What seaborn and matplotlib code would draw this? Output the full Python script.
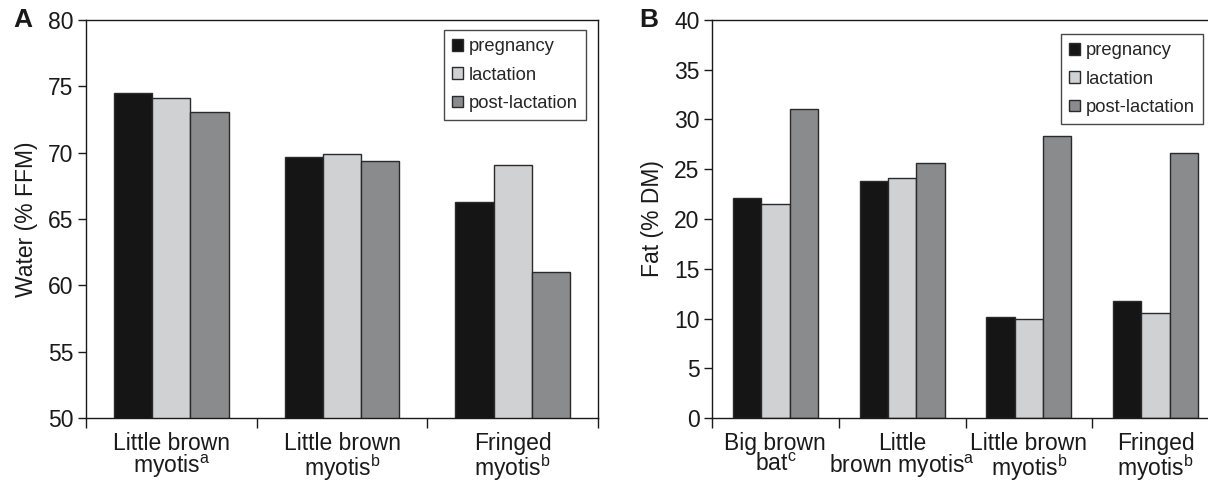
import matplotlib
matplotlib.use("Agg")
import matplotlib.pyplot as plt
import seaborn as sns
import pandas as pd

# Reproductive stages (legend order)
stages = ["pregnancy", "lactation", "post-lactation"]
stage_colors = ["#151515", "#d0d1d3", "#8a8b8d"]

# Panel A: body water content
water_species = [
    "Little brown\nmyotis$^{\\mathrm{a}}$",
    "Little brown\nmyotis$^{\\mathrm{b}}$",
    "Fringed\nmyotis$^{\\mathrm{b}}$",
]
water_pregnancy = [74.5, 69.7, 66.3]
water_lactation = [74.15, 69.9, 69.1]
water_post = [73.05, 69.35, 61.0]

# Panel B: body fat content
fat_species = [
    "Big brown\nbat$^{\\mathrm{c}}$",
    "Little\nbrown myotis$^{\\mathrm{a}}$",
    "Little brown\nmyotis$^{\\mathrm{b}}$",
    "Fringed\nmyotis$^{\\mathrm{b}}$",
]
fat_pregnancy = [22.15, 23.85, 10.2, 11.8]
fat_lactation = [21.5, 24.1, 10.0, 10.6]
fat_post = [31.1, 25.6, 28.35, 26.6]


def long_table(species, preg, lact, post):
    rows = []
    for vals, stage in zip([preg, lact, post], stages):
        for sp, v in zip(species, vals):
            rows.append({"species": sp, "stage": stage, "value": v})
    return pd.DataFrame(rows)


sns.set_theme(style="white")
plt.rcParams["font.family"] = ["Liberation Sans", "DejaVu Sans"]
plt.rcParams["mathtext.fontset"] = "custom"
plt.rcParams["mathtext.rm"] = "Liberation Sans"
plt.rcParams["mathtext.it"] = "Liberation Sans:italic"
plt.rcParams["mathtext.bf"] = "Liberation Sans:bold"

fig = plt.figure(figsize=(12.08, 4.83), dpi=100)
W, H = 1208.0, 483.0
axA = fig.add_axes([86 / W, (H - 418) / H, 512 / W, 398 / H])
axB = fig.add_axes([712 / W, (H - 418) / H, 507 / W, 398 / H])

panels = [
    (axA, long_table(water_species, water_pregnancy, water_lactation, water_post),
     water_species, (50, 80), range(50, 81, 5), "Water (% FFM)", "A",
     (0.977, 0.975), -0.141),
    (axB, long_table(fat_species, fat_pregnancy, fat_lactation, fat_post),
     fat_species, (0, 40), range(0, 41, 5), "Fat (% DM)", "B",
     (0.968, 0.965), -0.144),
]

for ax, df, species, ylim, yticks, ylabel, letter, leg_anchor, letter_x in panels:
    sns.barplot(data=df, x="species", y="value", hue="stage",
                order=species, hue_order=stages, palette=stage_colors,
                width=0.67, gap=0, edgecolor="#2a2a2a", linewidth=1.0,
                errorbar=None, ax=ax)
    n = len(species)
    ax.set_xlim(-0.5, n - 0.5)
    ax.set_ylim(*ylim)
    ax.set_yticks(list(yticks))
    ax.tick_params(axis="y", labelsize=16.5, length=6, width=1, direction="out",
                   left=True, pad=3, colors="#1a1a1a")
    # category boundaries carry the tick marks, centres carry the names
    ax.set_xticks([i - 0.5 for i in range(n + 1)])
    ax.set_xticklabels([])
    ax.set_xticks(list(range(n)), minor=True)
    ax.set_xticklabels(species, minor=True, fontsize=16.5, linespacing=0.9)
    ax.tick_params(axis="x", which="major", length=7, width=1, direction="out",
                   bottom=True, colors="#1a1a1a")
    ax.tick_params(axis="x", which="minor", length=0, pad=10, labelcolor="#1a1a1a")
    ax.set_xlabel("")
    ax.set_ylabel(ylabel, fontsize=16.5, labelpad=7, color="#1a1a1a")
    for side in ["left", "bottom", "top", "right"]:
        ax.spines[side].set_visible(True)
        ax.spines[side].set_color("#1a1a1a")
        ax.spines[side].set_linewidth(1.0)
    handles, labels = ax.get_legend_handles_labels()
    leg = ax.legend(handles, labels, loc="upper right", bbox_to_anchor=leg_anchor,
                    fontsize=13.2, frameon=True, fancybox=False, edgecolor="#1a1a1a",
                    handlelength=0.6, handleheight=0.6, handletextpad=0.3,
                    labelspacing=0.62, borderpad=0.45, borderaxespad=0)
    leg.get_frame().set_linewidth(1.0)
    ax.text(letter_x, 1.0, letter, transform=ax.transAxes,
            fontsize=19, fontweight="bold", va="center", ha="left", color="#1a1a1a")

fig.savefig("out.png", dpi=100)
